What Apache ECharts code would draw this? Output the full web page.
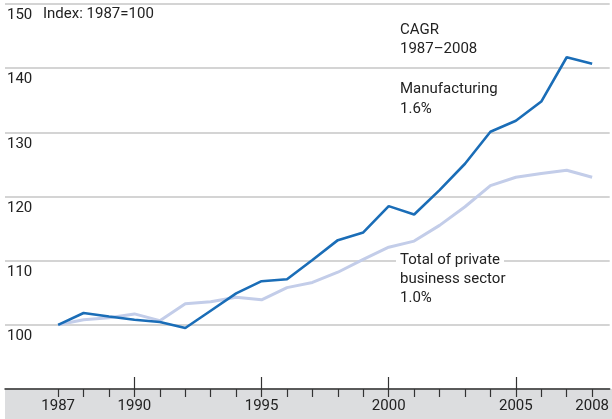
<!DOCTYPE html>
<html>
<head>
<meta charset="utf-8">
<script src="https://cdn.jsdelivr.net/npm/echarts@6/dist/echarts.min.js"></script>
<style>
  html, body { margin: 0; padding: 0; background: #fff; }
  #chart { width: 612px; height: 419px; }
</style>
</head>
<body>
<div id="chart"></div>
<script>
var years = [1987, 1988, 1989, 1990, 1991, 1992, 1993, 1994, 1995, 1996, 1997,
             1998, 1999, 2000, 2001, 2002, 2003, 2004, 2005, 2006, 2007, 2008]
var manufacturing = [100, 101.85, 101.3, 100.8, 100.45, 99.5, 102.2, 104.9, 106.8, 107.1, 110.1,
                     113.2, 114.4, 118.5, 117.2, 121.0, 125.1, 130.1, 131.8, 134.8, 141.7, 140.7]
var totalPrivate = [100, 100.8, 101.1, 101.7, 100.65, 103.3, 103.6, 104.3, 103.9, 105.8, 106.6,
                    108.2, 110.2, 112.1, 113.05, 115.5, 118.4, 121.7, 123.0, 123.6, 124.1, 123.0]
var tickYears = years
var labelYears = [1987, 1990, 1995, 2000, 2005, 2008]
var majorYears = [1990, 1995, 2000, 2005]

var font = 'Roboto, "DejaVu Sans", sans-serif'
var textColor = '#222'

function pairs(xs, ys) {
  return xs.map(function (x, i) { return [x, ys[i]] })
}

var chart = echarts.init(document.getElementById('chart'))
chart.setOption({
  animation: false,
  grid: { left: 5, right: 0, top: 4, bottom: 30 },
  xAxis: [{
    type: 'value',
    min: 1984.91,
    max: 2008.69,
    splitLine: { show: false },
    axisLine: { show: true, lineStyle: { color: '#333', width: 1.5 } },
    axisTick: { show: true, customValues: tickYears, length: 8, lineStyle: { color: '#333', width: 1.2 } },
    axisLabel: {
      customValues: labelYears,
      formatter: function (v) { return String(v) },
      margin: 10,
      color: textColor,
      fontFamily: font,
      fontSize: 15
    }
  }, {
    type: 'value',
    min: 1984.91,
    max: 2008.69,
    position: 'bottom',
    splitLine: { show: false },
    axisLine: { show: false },
    axisTick: { show: true, inside: true, customValues: majorYears, length: 12, lineStyle: { color: '#333', width: 1.2 } },
    axisLabel: { show: false }
  }],
  yAxis: {
    type: 'value',
    min: 90,
    max: 150,
    interval: 10,
    axisLine: { show: false },
    axisTick: { show: false },
    splitLine: { lineStyle: { color: '#c6c6c6', width: 1.5 } },
    axisLabel: {
      inside: true,
      showMinLabel: false,
      margin: 2,
      verticalAlign: 'top',
      padding: [4, 0, 0, 0],
      color: textColor,
      fontFamily: font,
      fontSize: 15
    }
  },
  graphic: [
    {
      type: 'rect', z: -1, silent: true,
      shape: { x: 5, y: 389, width: 607, height: 30 },
      style: { fill: '#dcdddf' }
    },
    {
      type: 'text', left: 43, top: 7,
      style: { text: 'Index: 1987=100', fill: textColor, font: '15px ' + font }
    },
    {
      type: 'text', left: 400, top: 21,
      style: { text: 'CAGR\n1987–2008', fill: textColor, font: '15px ' + font, lineHeight: 19 }
    },
    {
      type: 'text', left: 400, top: 79,
      style: { text: 'Manufacturing\n1.6%', fill: textColor, font: '15px ' + font, lineHeight: 20 }
    },
    {
      type: 'text', left: 396, top: 250, z: 10,
      style: { text: 'Total of private', fill: textColor, font: '15px ' + font, lineHeight: 19,
               backgroundColor: '#fff', padding: [1, 4, 1, 4] }
    },
    {
      type: 'text', left: 400, top: 270, z: 10,
      style: { text: 'business sector\n1.0%', fill: textColor, font: '15px ' + font, lineHeight: 19 }
    }
  ],
  series: [
    {
      name: 'Total of private business sector',
      type: 'line',
      data: pairs(years, totalPrivate),
      showSymbol: false,
      lineStyle: { color: '#c3cde9', width: 3 },
      z: 2
    },
    {
      name: 'Manufacturing',
      type: 'line',
      data: pairs(years, manufacturing),
      showSymbol: false,
      lineStyle: { color: '#1a6db7', width: 2.6 },
      z: 3
    }
  ]
})
</script>
</body>
</html>
